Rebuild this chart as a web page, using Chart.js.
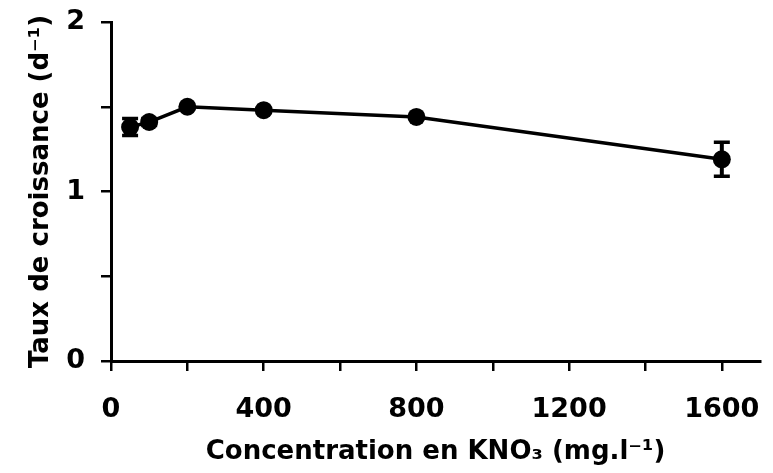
<!DOCTYPE html>
<html>
<head>
<meta charset="utf-8">
<script src="https://cdn.jsdelivr.net/npm/chart.js@4/dist/chart.umd.min.js"></script>
<style>
  html, body { margin: 0; padding: 0; background: #fff; }
  #wrap { width: 773px; height: 473px; }
</style>
</head>
<body>
<div id="wrap"><canvas id="c" width="773" height="473"></canvas></div>
<script>
// ---- data ----
const concentrations = [50, 100, 200, 400, 800, 1600];      // KNO3 (mg/l)
const growthRates    = [1.38, 1.41, 1.50, 1.48, 1.44, 1.19]; // d^-1
const growthErrors   = [0.05, 0.02, 0.0, 0.0, 0.0, 0.10];    // ± error
const xTickLabels    = [0, 400, 800, 1200, 1600];
const yTickLabels    = [0, 1, 2];
const xAxisTitle = 'Concentration en KNO₃ (mg.l⁻¹)';
const yAxisTitle = 'Taux de croissance (d⁻¹)';

const points = concentrations.map((c, i) => ({ x: c, y: growthRates[i] }));

const FONT = "'DejaVu Sans', 'Liberation Sans', sans-serif";

const errorBarPlugin = {
  id: 'errorBars',
  beforeDatasetsDraw(chart) {
    const ctx = chart.ctx;
    const xs = chart.scales.x, ys = chart.scales.y;
    ctx.save();
    ctx.strokeStyle = '#000';
    ctx.lineCap = 'butt';
    concentrations.forEach((c, i) => {
      const e = growthErrors[i];
      if (!e) return;
      const px = xs.getPixelForValue(c);
      const top = ys.getPixelForValue(growthRates[i] + e);
      const bot = ys.getPixelForValue(growthRates[i] - e);
      const half = 8;
      ctx.lineWidth = 4;
      ctx.beginPath();
      ctx.moveTo(px, top); ctx.lineTo(px, bot);
      ctx.stroke();
      ctx.lineWidth = 3.5;
      ctx.beginPath();
      ctx.moveTo(px - half, top); ctx.lineTo(px + half, top);
      ctx.moveTo(px - half, bot); ctx.lineTo(px + half, bot);
      ctx.stroke();
    });
    ctx.restore();
  }
};

new Chart(document.getElementById('c'), {
  type: 'line',
  data: {
    datasets: [{
      data: points,
      borderColor: '#000',
      borderWidth: 3.5,
      backgroundColor: '#000',
      pointRadius: 9,
      pointBackgroundColor: '#000',
      pointBorderColor: '#000',
      pointBorderWidth: 0,
      tension: 0,
      fill: false
    }]
  },
  options: {
    responsive: false,
    devicePixelRatio: 1,
    animation: false,
    layout: { padding: { left: 0, right: 13, top: 22, bottom: 0 } },
    plugins: { legend: { display: false }, tooltip: { enabled: false } },
    scales: {
      x: {
        type: 'linear',
        min: 0, max: 1700,
        bounds: 'data',
        afterBuildTicks(scale) {
          scale.ticks = scale.ticks.filter(t => t.value % 200 === 0);
        },
        afterFit(scale) {
          scale.height = 112;
          scale.paddingLeft = 0;
          scale.paddingRight = 0;
        },
        ticks: {
          stepSize: 200,
          autoSkip: false,
          maxRotation: 0,
          padding: 25,
          color: '#000',
          font: { family: FONT, size: 27, weight: 'bold', lineHeight: 1 },
          callback: (v) => xTickLabels.includes(v) ? String(v) : ''
        },
        grid: { display: true, drawOnChartArea: false, drawTicks: true, tickLength: 10, color: '#000', lineWidth: 2.5 },
        border: { display: true, color: '#000', width: 3 },
        title: {
          display: true, text: xAxisTitle, color: '#000',
          font: { family: FONT, size: 26, weight: 'bold' },
          padding: { top: 1, bottom: 5 }
        }
      },
      y: {
        type: 'linear',
        min: 0, max: 2,
        bounds: 'data',
        afterFit(scale) {
          scale.width = 111;
          scale.paddingTop = 0;
          scale.paddingBottom = 0;
        },
        ticks: {
          stepSize: 0.5,
          autoSkip: false,
          padding: 16,
          color: '#000',
          font: { family: FONT, size: 27, weight: 'bold' },
          callback: (v) => yTickLabels.includes(v) ? String(v) : ''
        },
        grid: { display: true, drawOnChartArea: false, drawTicks: true, tickLength: 10, color: '#000', lineWidth: 2.5 },
        border: { display: true, color: '#000', width: 3 },
        title: {
          display: true, text: yAxisTitle, color: '#000',
          font: { family: FONT, size: 26, weight: 'bold' },
          padding: { top: 26, bottom: 0 }
        }
      }
    }
  },
  plugins: [errorBarPlugin]
});
</script>
</body>
</html>
